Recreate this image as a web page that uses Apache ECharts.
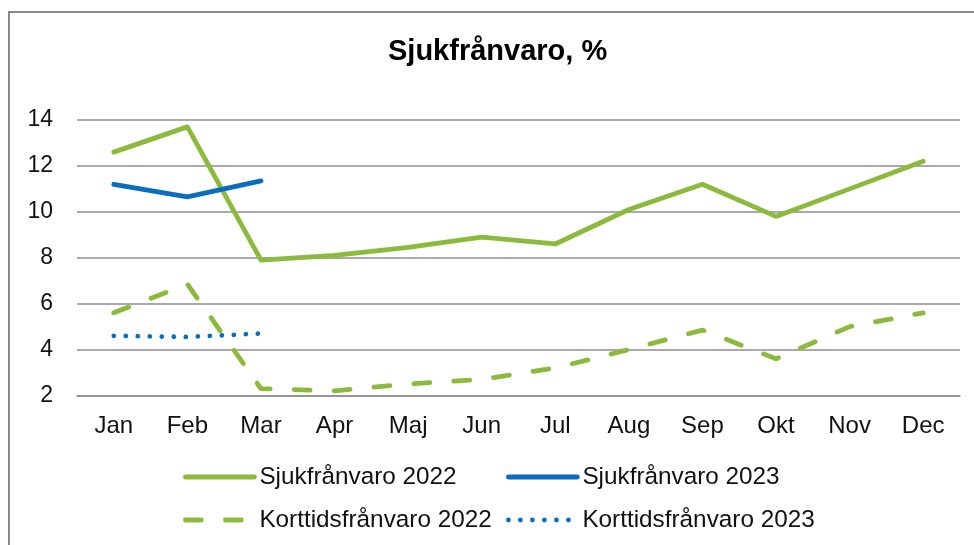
<!DOCTYPE html>
<html>
<head>
<meta charset="utf-8">
<script src="https://cdn.jsdelivr.net/npm/echarts@6/dist/echarts.min.js"></script>
<style>
html,body{margin:0;padding:0;background:#fff;}
#chart{width:974px;height:545px;}
</style>
</head>
<body>
<div id="chart"></div>
<script>
var months = ['Jan','Feb','Mar','Apr','Maj','Jun','Jul','Aug','Sep','Okt','Nov','Dec'];
var sjuk2022 = [12.6, 13.7, 7.9, 8.1, 8.45, 8.9, 8.6, 10.1, 11.2, 9.8, 11.0, 12.2];
var sjuk2023 = [11.2, 10.65, 11.35];
var kort2022 = [5.6, 6.85, 2.3, 2.2, 2.5, 2.7, 3.2, 4.0, 4.85, 3.6, 5.0, 5.6];
var kort2023 = [4.6, 4.55, 4.7];
var yTicks = [2, 4, 6, 8, 10, 12, 14];
var names = ['Sjukfrånvaro 2022', 'Sjukfrånvaro 2023', 'Korttidsfrånvaro 2022', 'Korttidsfrånvaro 2023'];

var GREEN = '#8cba3c', BLUE = '#0a6dbd', GRID = '#8e8e8e';
var FONT = "'Liberation Sans', Arial, sans-serif";
var LW = 4.8;

var chart = echarts.init(document.getElementById('chart'), null, {renderer: 'canvas'});

function legendAt(name, left, top) {
  return {
    data: [name], left: left, top: top, orient: 'horizontal',
    itemWidth: 69, itemHeight: 14, itemGap: 0, padding: 0,
    itemStyle: {opacity: 0, borderWidth: 0},
    lineStyle: {width: LW, cap: 'round'},
    textStyle: {fontFamily: FONT, fontSize: 24.3, color: '#111'},
    selectedMode: false
  };
}

var option = {
  animation: false,
  backgroundColor: '#fff',
  title: {
    text: 'Sjukfrånvaro, %',
    left: 383, top: 32,
    textStyle: {fontFamily: FONT, fontSize: 29, fontWeight: 'bold', color: '#000'}
  },
  graphic: [{
    type: 'rect', silent: true,
    shape: {x: 9, y: 12, width: 1100, height: 700},
    style: {fill: 'none', stroke: '#888', lineWidth: 2}
  }],
  legend: [
    legendAt(names[0], 183, 465),
    legendAt(names[1], 506, 465),
    legendAt(names[2], 183, 508),
    legendAt(names[3], 506, 508)
  ],
  grid: {left: 77, right: 14, top: 120, bottom: 149.5, containLabel: false},
  xAxis: {
    type: 'category', data: months, boundaryGap: true,
    axisLine: {show: true, lineStyle: {color: GRID, width: 1.5}},
    axisTick: {show: false},
    axisLabel: {fontFamily: FONT, fontSize: 24, color: '#111', margin: 19},
    splitLine: {show: false}
  },
  yAxis: {
    type: 'value', min: yTicks[0], max: yTicks[yTicks.length-1], interval: 2,
    axisLine: {show: false}, axisTick: {show: false},
    axisLabel: {fontFamily: FONT, fontSize: 23, color: '#111', margin: 24},
    splitLine: {show: true, lineStyle: {color: GRID, width: 1.5}}
  },
  series: [
    {name: names[0], type: 'line', data: sjuk2022, symbol: 'none', z: 2,
     lineStyle: {color: GREEN, width: LW, cap: 'round', join: 'round'}, itemStyle: {color: GREEN}},
    {name: names[2], type: 'line', data: kort2022, symbol: 'none', z: 3,
     lineStyle: {color: GREEN, width: LW, type: [16, 24], cap: 'round', join: 'round'}, itemStyle: {color: GREEN}},
    {name: names[1], type: 'line', data: sjuk2023, symbol: 'none', z: 4,
     lineStyle: {color: BLUE, width: LW, cap: 'round', join: 'round'}, itemStyle: {color: BLUE}},
    {name: names[3], type: 'line', data: kort2023, symbol: 'none', z: 5,
     lineStyle: {color: BLUE, width: LW, type: [0.01, 12], cap: 'round', join: 'round'}, itemStyle: {color: BLUE}}
  ]
};
chart.setOption(option);
</script>
</body>
</html>
